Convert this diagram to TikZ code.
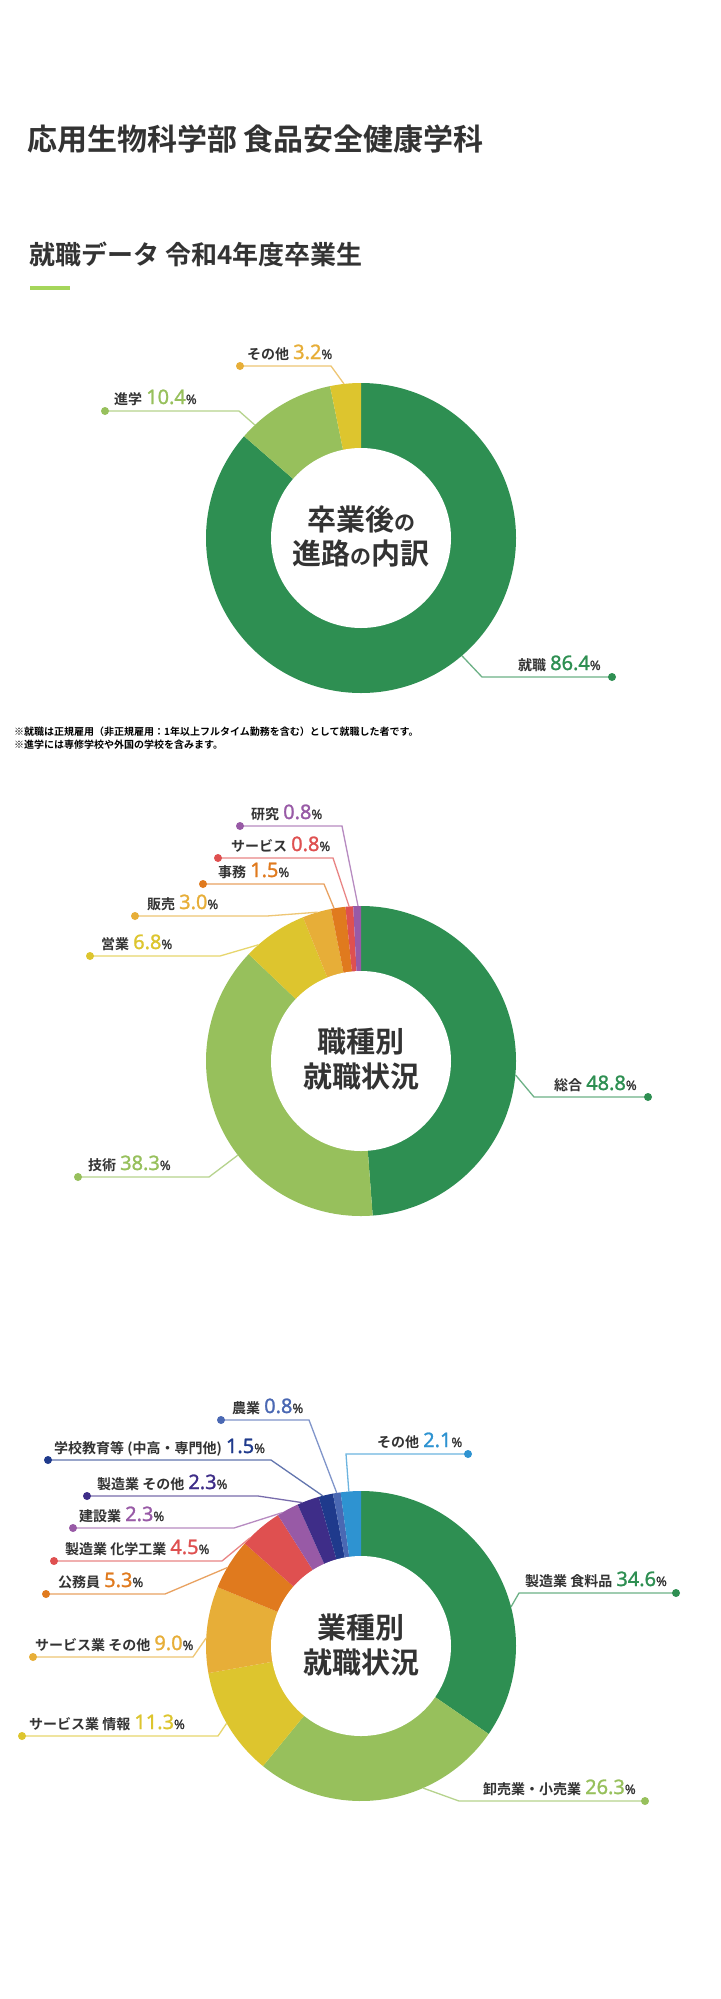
\documentclass[tikz,border=0pt]{standalone}
\usepackage{fontspec}
\setmainfont{Noto Sans CJK JP}[BoldFont={Noto Sans CJK JP Bold}]
\newfontfamily\numfont{Noto Sans}[FakeBold=1.2]
\usetikzlibrary{calc}
\definecolor{textgray}{HTML}{333333}
\definecolor{rulegreen}{HTML}{A5D65B}
\definecolor{cGreen}{HTML}{2E8F52}
\definecolor{cLime}{HTML}{97C05C}
\definecolor{cYellow}{HTML}{DDC52E}
\definecolor{cGold}{HTML}{E7AE38}
\definecolor{cOrange}{HTML}{E07A1E}
\definecolor{cRed}{HTML}{DF5050}
\definecolor{cPurple}{HTML}{985AA6}
\definecolor{cIndigo}{HTML}{3E2D88}
\definecolor{cNavy}{HTML}{1F3A8C}
\definecolor{cBlue}{HTML}{4A68B3}
\definecolor{cSky}{HTML}{2E93D1}
\newcommand\pctlabel[3]{#1\hspace{4pt}{\numfont\mdseries\fontsize{20}{20}\selectfont\color{#3}#2}{\numfont\mdseries\fontsize{13}{13}\selectfont\%}}
\begin{document}
\begin{tikzpicture}
[x=1pt,y=1pt,
  dotdecorate/.style={shape=circle,inner sep=0pt,minimum size=8pt},%
  leaderdecorate/.style={-,line width=1.3pt},%
  labeldecorate/.style={anchor=base west,inner sep=0pt,text=textgray,
    font=\bfseries\fontsize{14}{14}\selectfont},%
  centerdecorate/.style={anchor=base,inner sep=0pt,text=textgray,
    font=\bfseries\fontsize{29}{29}\selectfont},%
  headdecorate/.style={anchor=base west,inner sep=0pt,text=textgray}]
\fill[white] (0,0) rectangle (720,-1999);
\useasboundingbox (0,0) rectangle (720,-1999);
%%
%% headings
\node (title) at (27,-150) [headdecorate,font=\bfseries\fontsize{30}{30}\selectfont]
  {応用生物科学部 食品安全健康学科};
\node (subtitle) at (29,-264) [headdecorate,font=\bfseries\fontsize{26}{26}\selectfont]
  {就職データ 令和4年度卒業生};
\coordinate (rule-a) at (30,-288);
\coordinate (rule-b) at (70,-288);
\draw[rulegreen,line width=3.5pt] (rule-a) -- (rule-b);
%%
%% chart 1: after graduation
\coordinate (c1) at (361,-538);
\foreach \a/\b/\col in {90/-221.04/cGreen, 138.96/101.52/cLime, 101.52/90/cYellow} {
  \fill[\col] (c1) -- ++(\a:155) arc[start angle=\a, end angle=\b, radius=155] -- cycle;
}
\fill[white] (c1) circle (90);
\node (c1-top) at ($(c1)+(0,8)$) [centerdecorate] {卒業後{\fontsize{21}{21}\selectfont の}};
\node (c1-bot) at ($(c1)+(0,-26)$) [centerdecorate] {進路{\fontsize{21}{21}\selectfont の}内訳};
\foreach \nodename/\ang/\kx/\dx/\dy/\tx/\txt/\val/\col in {
  other1/96.3/331/240/366/247/その他/3.2/cGold,
  study/133.2/239/105/411/114/進学/10.4/cLime,
  job/-49.4/482/612/677/518/就職/86.4/cGreen} {
  \coordinate (\nodename-pin) at (\dx,-\dy);
  \coordinate (\nodename-knee) at (\kx,-\dy);
  \coordinate (\nodename-end) at ($(c1)+(\ang:155)$);
  \draw[leaderdecorate,\col!70] (\nodename-end) -- (\nodename-knee) -- (\nodename-pin);
  \node (\nodename-dot) at (\nodename-pin) [dotdecorate,fill=\col] {};
  \node (\nodename-lbl) at (\tx,-\dy+7) [labeldecorate] {\pctlabel{\txt}{\val}{\col}};
}
%% notes
\node (note1) at (14,-735) [headdecorate,text=black,font=\bfseries\fontsize{10}{10}\selectfont]
  {※就職は正規雇用（非正規雇用：1年以上フルタイム勤務を含む）として就職した者です。};
\node (note2) at (14,-748) [headdecorate,text=black,font=\bfseries\fontsize{10}{10}\selectfont]
  {※進学には専修学校や外国の学校を含みます。};
%%
%% chart 2: by job type
\coordinate (c2) at (361,-1061);
\foreach \a/\b/\col in {90/-85.68/cGreen, -85.68/-223.56/cLime, 136.44/111.96/cYellow,
  111.96/101.16/cGold, 101.16/95.76/cOrange, 95.76/92.88/cRed, 92.88/90/cPurple} {
  \fill[\col] (c2) -- ++(\a:155) arc[start angle=\a, end angle=\b, radius=155] -- cycle;
}
\fill[white] (c2) circle (90);
\node (c2-top) at ($(c2)+(0,9)$) [centerdecorate] {職種別};
\node (c2-bot) at ($(c2)+(0,-26)$) [centerdecorate] {就職状況};
\foreach \nodename/\ang/\kx/\dx/\dy/\tx/\txt/\val/\col in {
  research/91.1/342/240/826/251/研究/0.8/cPurple,
  service/94.4/333/218/858/231/サービス/0.8/cRed,
  office/100/324/203/884/218/事務/1.5/cOrange,
  sales/106.2/267/135/916/147/販売/3.0/cGold,
  eigyo/131.4/220/90/956/101/営業/6.8/cYellow,
  general/-5.1/534/648/1097/554/総合/48.8/cGreen,
  tech/217.4/209/78/1177/88/技術/38.3/cLime} {
  \coordinate (\nodename-pin) at (\dx,-\dy);
  \coordinate (\nodename-knee) at (\kx,-\dy);
  \coordinate (\nodename-end) at ($(c2)+(\ang:155)$);
  \draw[leaderdecorate,\col!70] (\nodename-end) -- (\nodename-knee) -- (\nodename-pin);
  \node (\nodename-dot) at (\nodename-pin) [dotdecorate,fill=\col] {};
  \node (\nodename-lbl) at (\tx,-\dy+7) [labeldecorate] {\pctlabel{\txt}{\val}{\col}};
}
%%
%% chart 3: by industry
\coordinate (c3) at (361,-1646);
\foreach \a/\b/\col in {90/-34.56/cGreen, -34.56/-129.24/cLime, -129.24/-169.92/cYellow,
  -169.92/-202.32/cGold, 157.68/138.6/cOrange, 138.6/122.4/cRed, 122.4/114.12/cPurple,
  114.12/105.84/cIndigo, 105.84/100.44/cNavy, 100.44/97.56/cBlue, 97.56/90/cSky} {
  \fill[\col] (c3) -- ++(\a:155) arc[start angle=\a, end angle=\b, radius=155] -- cycle;
}
\fill[white] (c3) circle (90);
\node (c3-top) at ($(c3)+(0,8)$) [centerdecorate] {業種別};
\node (c3-bot) at ($(c3)+(0,-27)$) [centerdecorate] {就職状況};
\foreach \nodename/\ang/\kx/\dx/\dy/\tx/\txt/\val/\col in {
  agri/99/309/221/1420/232/農業/0.8/cBlue,
  school/104.3/271/48/1460/54/学校教育等 (中高・専門他)/1.5/cNavy,
  mfgother/112.3/258/87/1496/97/製造業 その他/2.3/cIndigo,
  build/120.7/234/73/1528/79/建設業/2.3/cPurple,
  chem/135.8/222/54/1561/65/製造業 化学工業/4.5/cRed,
  public/149.6/165/46/1594/58/公務員/5.3/cOrange,
  servother/177/193/33/1657/35/サービス業 その他/9.0/cGold,
  info/209.9/218/22/1736/29/サービス業 情報/11.3/cYellow,
  retail/-66.4/459/645/1801/483/卸売業・小売業/26.3/cLime,
  other3/94.5/346/468/1454/377/その他/2.1/cSky,
  food/14.6/519/676/1593/525/製造業 食料品/34.6/cGreen} {
  \coordinate (\nodename-pin) at (\dx,-\dy);
  \coordinate (\nodename-knee) at (\kx,-\dy);
  \coordinate (\nodename-end) at ($(c3)+(\ang:155)$);
  \draw[leaderdecorate,\col!70] (\nodename-end) -- (\nodename-knee) -- (\nodename-pin);
  \node (\nodename-dot) at (\nodename-pin) [dotdecorate,fill=\col] {};
  \node (\nodename-lbl) at (\tx,-\dy+7) [labeldecorate] {\pctlabel{\txt}{\val}{\col}};
}
\end{tikzpicture}
\end{document}
